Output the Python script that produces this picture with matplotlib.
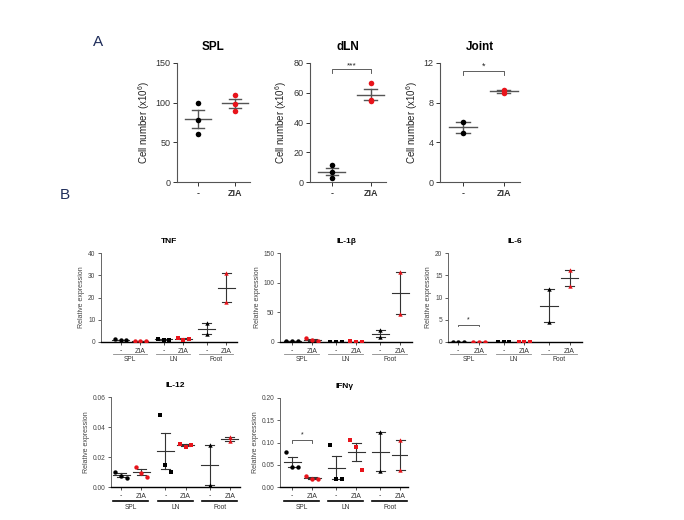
import numpy as np
import matplotlib
matplotlib.use("Agg")
import matplotlib.pyplot as plt
import matplotlib.transforms as mtransforms

plt.rcParams['font.family'] = ['Liberation Sans', 'DejaVu Sans']
plt.rcParams['mathtext.fontset'] = 'custom'
plt.rcParams['mathtext.rm'] = 'Liberation Sans'
plt.rcParams['mathtext.it'] = 'Liberation Sans'

# ---------------- Data ----------------
groupsA = ['-', 'ZIA']
spl_ctrl = [100, 78, 60]
spl_zia = [110, 98, 90]
dln_ctrl = [11.5, 6.8, 2.8]
dln_zia = [66.4, 54.7, 55.2]
joint_ctrl = [6.1, 4.9]
joint_zia = [9.3, 9.0]

tissues = ['SPL', 'LN', 'Foot']
conds = ['-', 'ZIA']

tnf = {'SPL': ([1.2, 0.9, 0.9], [0.5, 0.4, 0.5]),
       'LN': ([1.5, 1.0, 1.0], [2.0, 0.9, 1.5]),
       'Foot': ([8.6, 3.5], [31.0, 17.8])}
il1b = {'SPL': ([1.5, 1.5, 1.5], [6.0, 3.0, 1.5]),
        'LN': ([0.5, 0.5, 0.5], [1.0, 0.5, 0.5]),
        'Foot': ([20.0, 8.0], [118.0, 47.5])}
il6 = {'SPL': ([0.1, 0.1, 0.1], [0.05, 0.05, 0.05]),
       'LN': ([0.1, 0.1, 0.1], [0.05, 0.05, 0.05]),
       'Foot': ([11.9, 4.5], [16.2, 12.5])}
il12 = {'SPL': ([0.0102, 0.0072, 0.0057], [0.0133, 0.0093, 0.0067]),
        'LN': ([0.0478, 0.0144, 0.0100], [0.0289, 0.0267, 0.0278]),
        'Foot': ([0.0278, 0.0016], [0.0333, 0.0307])}
ifng = {'SPL': ([0.078, 0.044, 0.044], [0.024, 0.017, 0.019]),
        'LN': ([0.094, 0.018, 0.018], [0.106, 0.091, 0.039]),
        'Foot': ([0.123, 0.035], [0.106, 0.039])}

# ---------------- Helpers ----------------
W, H = 684, 520
fig = plt.figure(figsize=(W / 100, H / 100), dpi=100)


def add_ax(x0, y0, x1, y1):
    return fig.add_axes([x0 / W, 1 - y1 / H, (x1 - x0) / W, (y1 - y0) / H])


def offsets(n, spread):
    if n <= 2:
        return np.zeros(n)
    return np.linspace(-spread, spread, n)


def dotplot(ax, x, vals, color, marker, spread, mean_w, cap_w, s, ecolor, elw):
    vals = np.asarray(vals, float)
    m = vals.mean()
    se = vals.std(ddof=1) / np.sqrt(len(vals))
    ax.plot([x - mean_w / 2, x + mean_w / 2], [m, m], color=ecolor, lw=elw, zorder=2)
    ax.plot([x, x], [m - se, m + se], color=ecolor, lw=elw, zorder=2)
    for yy in (m - se, m + se):
        ax.plot([x - cap_w / 2, x + cap_w / 2], [yy, yy], color=ecolor, lw=elw, zorder=2)
    ax.scatter(x + offsets(len(vals), spread), vals, s=s, color=color, marker=marker,
               zorder=3, linewidths=0)


def bracket(ax, x0, x1, y, dy, text, fs, lw=0.6, color='#444444', tdy=0):
    ax.plot([x0, x0, x1, x1], [y - dy, y, y, y - dy], color=color, lw=lw, clip_on=False)
    ax.text((x0 + x1) / 2, y + tdy, text, ha='center', va='bottom', fontsize=fs, color='#222222')


# ---------------- Panel A ----------------
fig.text(93 / W, 1 - 42 / H, 'A', fontsize=11, color='#1F2D5A', va='center', ha='left')
fig.text(60 / W, 1 - 195 / H, 'B', fontsize=11, color='#1F2D5A', va='center', ha='left')

panelA = [
    ('SPL', spl_ctrl, spl_zia, (177, 63, 250, 182), 150, [0, 50, 100, 150]),
    ('dLN', dln_ctrl, dln_zia, (310, 63, 386, 182), 80, [0, 20, 40, 60, 80]),
    ('Joint', joint_ctrl, joint_zia, (440, 63, 520, 182), 12, [0, 4, 8, 12]),
]
for title, c, z, box, ymax, yt in panelA:
    ax = add_ax(*box)
    dotplot(ax, 0, c, 'black', 'o', 0.0, 0.7, 0.33, 16, '#555555', 1.0)
    dotplot(ax, 1, z, '#E8141B', 'o', 0.0, 0.7, 0.33, 16, '#555555', 1.0)
    ax.set_xlim(-0.57, 1.4)
    ax.set_ylim(0, ymax)
    ax.set_yticks(yt)
    ax.set_xticks([0, 1])
    ax.set_xticklabels(groupsA, fontsize=6.5, fontweight='bold')
    ax.tick_params(axis='y', labelsize=6.5, length=3, width=0.7, colors='#333333', pad=1.5)
    ax.tick_params(axis='x', length=3, width=0.7, colors='#333333', pad=2)
    for sp in ('top', 'right'):
        ax.spines[sp].set_visible(False)
    for sp in ('left', 'bottom'):
        ax.spines[sp].set_color('#555555')
        ax.spines[sp].set_linewidth(0.8)
    ax.set_ylabel('Cell number (x10$^{6}$)', fontsize=7, color='#222222', labelpad=3)
    ax.set_title(title, fontsize=8.5, fontweight='bold', pad=9)
    if title == 'dLN':
        bracket(ax, 0, 1, 76, 2.5, '***', 6)
    if title == 'Joint':
        bracket(ax, 0, 1, 11.2, 0.4, '*', 6.5)

# ---------------- Panel B ----------------
xpos = {('SPL', 0): 0, ('SPL', 1): 1, ('LN', 0): 2.2, ('LN', 1): 3.2, ('Foot', 0): 4.4, ('Foot', 1): 5.4}
markers = {'SPL': 'o', 'LN': 's', 'Foot': '^'}

panelB = [
    ('TNF', tnf, (101, 253, 237, 342), 40, [0, 10, 20, 30, 40], ['0', '10', '20', '30', '40'], (-1.0, 5.95), False),
    ('IL-1β', il1b, (280, 253, 412, 342), 150, [0, 50, 100, 150], ['0', '50', '100', '150'], (-0.6, 6.0), False),
    ('IL-6', il6, (448, 253, 582, 342), 20, [0, 5, 10, 15, 20], ['0', '5', '10', '15', '20'], (-0.5, 6.0), False),
    ('IL-12', il12, (111, 397, 240, 487), 0.06, [0, 0.02, 0.04, 0.06], ['0.00', '0.02', '0.04', '0.06'], (-0.5, 5.9), True),
    ('IFNγ', ifng, (280, 398, 408, 487), 0.20, [0, 0.05, 0.10, 0.15, 0.20], ['0.00', '0.05', '0.10', '0.15', '0.20'], (-0.6, 5.8), True),
]

for title, data, box, ymax, yt, ytl, xl, thick in panelB:
    ax = add_ax(*box)
    for t in tissues:
        ctrl, zia = data[t]
        dotplot(ax, xpos[(t, 0)], ctrl, 'black', markers[t], 0.28, 0.85, 0.45, 10, '#333333', 0.8)
        dotplot(ax, xpos[(t, 1)], zia, '#E8141B', markers[t], 0.28, 0.85, 0.45, 10, '#333333', 0.8)
    ax.set_xlim(*xl)
    ax.set_ylim(0, ymax)
    ax.set_yticks(yt)
    ax.set_yticklabels(ytl)
    ax.set_xticks([xpos[(t, i)] for t in tissues for i in (0, 1)])
    ax.set_xticklabels(conds * 3, fontsize=5)
    ax.tick_params(axis='y', labelsize=4.8, length=2.5, width=0.6, colors='#444444', pad=1.5)
    ax.tick_params(axis='x', length=2.5, width=0.6, colors='#333333', pad=1.5)
    for sp in ('top', 'right'):
        ax.spines[sp].set_visible(False)
    ax.spines['left'].set_color('#666666')
    ax.spines['left'].set_linewidth(0.7)
    ax.spines['bottom'].set_color('black')
    ax.spines['bottom'].set_linewidth(1.0)
    ax.set_ylabel('Relative expression', fontsize=5, color='#444444', labelpad=2)
    ax.set_title(title, fontsize=6, fontweight='bold', pad=7)
    trans = mtransforms.blended_transform_factory(ax.transData, ax.transAxes)
    hpx = box[3] - box[1]
    yline = -11.5 / hpx if not thick else -14 / hpx
    ylab = -14 / hpx if not thick else -17 / hpx
    for t in tissues:
        x0 = xpos[(t, 0)]
        ax.plot([x0 - 0.38, x0 + 1.35], [yline, yline], transform=trans, clip_on=False,
                color='black' if thick else '#888888', lw=1.2 if thick else 0.6)
        ax.text(x0 + 0.5, ylab, t, transform=trans, ha='center', va='top', fontsize=4.8, color='#333333')
    if title == 'IL-6':
        bracket(ax, 0, 1, 3.9, 0.4, '*', 5, lw=0.6, tdy=0.2)
    if title == 'IFNγ':
        bracket(ax, 0, 1, 0.106, 0.006, '*', 5, lw=0.6, tdy=0.003)

fig.savefig('out.png', dpi=100)
